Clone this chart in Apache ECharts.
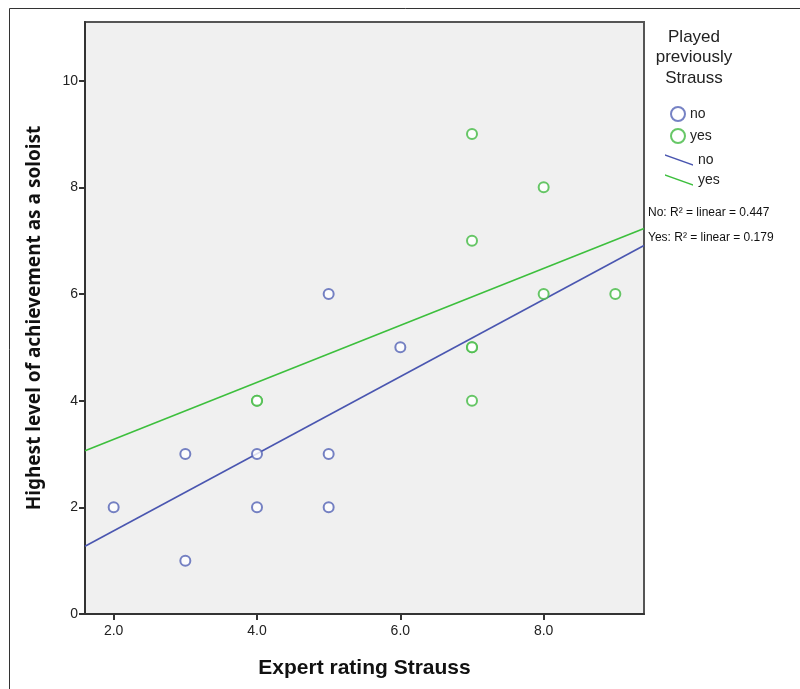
<!DOCTYPE html>
<html>
<head>
<meta charset="utf-8">
<script src="https://cdn.jsdelivr.net/npm/echarts@6/dist/echarts.min.js"></script>
<style>html,body{margin:0;padding:0;background:#fff;}#c{width:800px;height:689px;}</style>
</head>
<body>
<div id="c"></div>
<script>
// Data
var noPoints = [[2,2],[3,3],[3,1],[4,3],[4,2],[5,6],[5,3],[5,2],[6,5]];
var yesPoints = [[4,4],[4,4],[7,9],[7,7],[7,5],[7,5],[7,4],[8,8],[8,6],[9,6]];
var noFit = [[1.6,1.27],[9.4,6.91]];
var yesFit = [[1.6,3.06],[9.4,7.23]];
var xTicks = [2,4,6,8];
var yTicks = [0,2,4,6,8,10];
var r2Labels = ['No: R\u00B2 = linear = 0.447','Yes: R\u00B2 = linear = 0.179'];

var blue = '#5463b5', green = '#4cbd4c';
var blueLine = '#4a56b0', greenLine = '#3dbf3d';
var chart = echarts.init(document.getElementById('c'));
chart.setOption({
  animation: false,
  grid: {left: 85, top: 22, right: 156, bottom: 75, show: true, backgroundColor: '#f0f0f0', borderColor: '#555', borderWidth: 2},
  xAxis: {
    type: 'value', min: 1.6, max: 9.4,
    name: 'Expert rating Strauss', nameLocation: 'middle', nameGap: 44,
    nameTextStyle: {fontFamily: 'Liberation Sans', fontWeight: 'bold', fontSize: 21, color: '#111'},
    axisLine: {show: true, onZero: false, lineStyle: {color: '#333', width: 2}},
    axisTick: {show: true, length: 6, lineStyle: {color: '#333', width: 2}, customValues: xTicks},
    axisLabel: {customValues: xTicks, margin: 10, fontFamily: 'Liberation Sans', fontSize: 14, color: '#222',
      formatter: function(v){return v.toFixed(1);}},
    splitLine: {show: false}
  },
  yAxis: {
    type: 'value', min: 0, max: 11.1,
    name: 'Highest level of achievement as a soloist', nameLocation: 'middle', nameGap: 41, nameRotate: 90,
    nameTextStyle: {fontFamily: 'Noto Sans', fontWeight: 'bold', fontSize: 19, color: '#111'},
    axisLine: {show: true, onZero: false, lineStyle: {color: '#333', width: 2}},
    axisTick: {show: true, length: 6, lineStyle: {color: '#333', width: 2}, customValues: yTicks},
    axisLabel: {customValues: yTicks, margin: 7, fontFamily: 'Liberation Sans', fontSize: 14, color: '#222'},
    splitLine: {show: false}
  },
  legend: [{
    orient: 'vertical', left: 665, top: 101, itemGap: 6, itemWidth: 14, itemHeight: 14,
    data: [{name: 'no', icon: 'emptyCircle'}, {name: 'yes', icon: 'emptyCircle'}],
    textStyle: {fontFamily: 'Liberation Sans', fontSize: 14, color: '#222'}
  }, {
    orient: 'vertical', left: 660, top: 148, itemGap: 6, itemWidth: 28, itemHeight: 18,
    data: [{name: 'no ', icon: 'path://M0,0 L28,10 L28,11.5 L0,1.5 Z'}, {name: 'yes ', icon: 'path://M0,0 L28,10 L28,11.5 L0,1.5 Z'}],
    textStyle: {fontFamily: 'Liberation Sans', fontSize: 14, color: '#222'},
    formatter: function(n){return n.trim();}
  }],
  graphic: [
    {type: 'rect', left: 7, top: 6, shape: {width: 830, height: 720}, style: {fill: 'none', stroke: '#333', lineWidth: 1}, silent: true},
    {type: 'text', x: 694, y: 27, style: {text: 'Played\npreviously\nStrauss', align: 'center', fontFamily: 'Liberation Sans', fontSize: 17, lineHeight: 20.5, fill: '#222'}},
    {type: 'text', x: 648, y: 207, style: {text: r2Labels[0], fontFamily: 'Liberation Sans', fontSize: 12, fill: '#111'}},
    {type: 'text', x: 648, y: 232, style: {text: r2Labels[1], fontFamily: 'Liberation Sans', fontSize: 12, fill: '#111'}}
  ],
  series: [
    {name: 'no', type: 'scatter', data: noPoints, symbol: 'emptyCircle', symbolSize: 10, itemStyle: {color: blue, borderWidth: 1.6}, z: 3},
    {name: 'yes', type: 'scatter', data: yesPoints, symbol: 'emptyCircle', symbolSize: 10, itemStyle: {color: green, borderWidth: 1.6, opacity: 0.85}, z: 3},
    {name: 'no ', type: 'line', data: noFit, showSymbol: false, lineStyle: {color: blueLine, width: 1.6}, itemStyle: {color: blueLine}, z: 2},
    {name: 'yes ', type: 'line', data: yesFit, showSymbol: false, lineStyle: {color: greenLine, width: 1.6}, itemStyle: {color: greenLine}, z: 2}
  ]
});
</script>
</body>
</html>
